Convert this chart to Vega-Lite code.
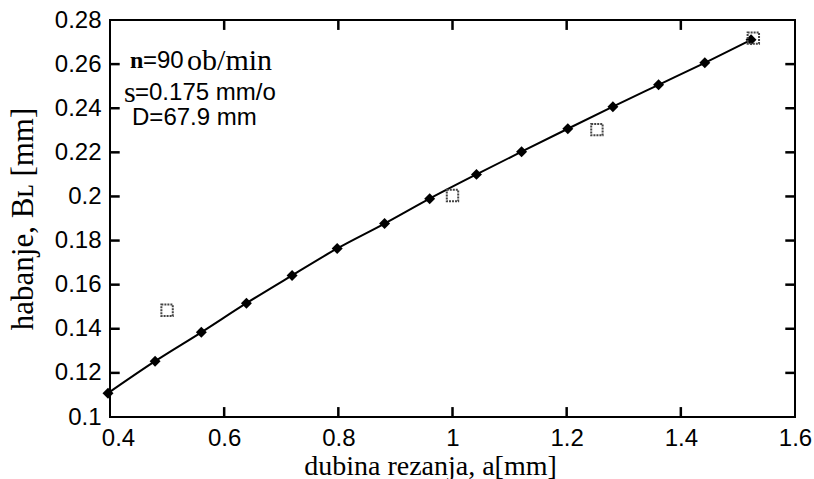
{
  "$schema": "https://vega.github.io/schema/vega-lite/v6.json",
  "width": 685,
  "height": 397,
  "autosize": "none",
  "padding": {"left": 110, "top": 20, "right": 19, "bottom": 62},
  "background": "white",
  "config": {
    "view": {"stroke": "black", "strokeWidth": 2},
    "axis": {"grid": false, "domain": false, "ticks": false, "tickSize": 0,
      "labelFont": "Liberation Sans", "labelFontSize": 24, "labelColor": "black",
      "titleFont": "Liberation Serif", "titleFontSize": 28, "titleFontWeight": "normal", "titleColor": "black"}
  },
  "datasets": {
    "fit": [
      {"a": 0.3965, "b": 0.1108},
      {"a": 0.479, "b": 0.1253},
      {"a": 0.56, "b": 0.1384},
      {"a": 0.639, "b": 0.1516},
      {"a": 0.719, "b": 0.1642},
      {"a": 0.798, "b": 0.1764},
      {"a": 0.881, "b": 0.1877},
      {"a": 0.96, "b": 0.199},
      {"a": 1.042, "b": 0.21},
      {"a": 1.121, "b": 0.2203},
      {"a": 1.202, "b": 0.2307},
      {"a": 1.281, "b": 0.2407},
      {"a": 1.361, "b": 0.2506},
      {"a": 1.442, "b": 0.2606},
      {"a": 1.523, "b": 0.271}
    ],
    "measured": [
      {"a": 0.5, "b": 0.1484},
      {"a": 1.0, "b": 0.2004},
      {"a": 1.253, "b": 0.2303},
      {"a": 1.527, "b": 0.2718}
    ],
    "xticks": [{"v": 0.6}, {"v": 0.8}, {"v": 1.0}, {"v": 1.2}, {"v": 1.4}],
    "yticks": [{"v": 0.12}, {"v": 0.14}, {"v": 0.16}, {"v": 0.18}, {"v": 0.2}, {"v": 0.22}, {"v": 0.24}, {"v": 0.26}],
    "serifText": [
      {"t": "ob/min", "a": 0.535, "b": 0.2615},
      {"t": "s", "a": 0.4246, "b": 0.247}
    ],
    "serifBold": [
      {"t": "n", "a": 0.435, "b": 0.2615}
    ],
    "sansText": [
      {"t": "=90", "a": 0.4578, "b": 0.2615},
      {"t": "=0.175 mm/o", "a": 0.4438, "b": 0.247},
      {"t": "D=67.9 mm", "a": 0.4386, "b": 0.2354}
    ]
  },
  "layer": [
    {
      "data": {"name": "fit"},
      "mark": {"type": "line", "interpolate": "monotone", "color": "black", "strokeWidth": 2},
      "encoding": {
        "x": {"field": "a", "type": "quantitative",
          "scale": {"domain": [0.4, 1.6], "nice": false, "zero": false},
          "axis": {"orient": "bottom", "values": [0.4, 0.6, 0.8, 1.0, 1.2, 1.4, 1.6], "format": "~g", "labelFlush": false,
            "labelOffset": {"condition": {"test": "datum.value == 0.4", "value": 8}, "value": 0},
            "labelPadding": 9, "title": "dubina rezanja, a[mm]", "titlePadding": 2, "titleX": 320}},
        "y": {"field": "b", "type": "quantitative",
          "scale": {"domain": [0.1, 0.28], "nice": false, "zero": false},
          "axis": {"orient": "left", "values": [0.1, 0.12, 0.14, 0.16, 0.18, 0.2, 0.22, 0.24, 0.26, 0.28], "format": "~g", "labelFlush": false, "labelPadding": 9, "title": "habanje, B\u029F [mm]", "titleFontSize": 31, "titlePadding": 15}}
      }
    },
    {
      "data": {"name": "xticks"},
      "mark": {"type": "rule", "color": "black", "strokeWidth": 2.5},
      "encoding": {
        "x": {"field": "v", "type": "quantitative"},
        "y": {"datum": 0.1, "type": "quantitative"},
        "y2": {"datum": 0.1045}
      }
    },
    {
      "data": {"name": "xticks"},
      "mark": {"type": "rule", "color": "black", "strokeWidth": 2.5},
      "encoding": {
        "x": {"field": "v", "type": "quantitative"},
        "y": {"datum": 0.28, "type": "quantitative"},
        "y2": {"datum": 0.2755}
      }
    },
    {
      "data": {"name": "yticks"},
      "mark": {"type": "rule", "color": "black", "strokeWidth": 2.5},
      "encoding": {
        "y": {"field": "v", "type": "quantitative"},
        "x": {"datum": 0.4, "type": "quantitative"},
        "x2": {"datum": 0.417}
      }
    },
    {
      "data": {"name": "yticks"},
      "mark": {"type": "rule", "color": "black", "strokeWidth": 2.5},
      "encoding": {
        "y": {"field": "v", "type": "quantitative"},
        "x": {"datum": 1.6, "type": "quantitative"},
        "x2": {"datum": 1.583}
      }
    },
    {
      "data": {"name": "fit"},
      "mark": {"type": "point", "shape": "diamond", "filled": true, "color": "black", "size": 120, "opacity": 1},
      "encoding": {
        "x": {"field": "a", "type": "quantitative"},
        "y": {"field": "b", "type": "quantitative"}
      }
    },
    {
      "data": {"name": "measured"},
      "mark": {"type": "point", "shape": "square", "filled": false, "stroke": "#444444", "strokeWidth": 2, "size": 130, "strokeDash": [2, 1], "opacity": 1},
      "encoding": {
        "x": {"field": "a", "type": "quantitative"},
        "y": {"field": "b", "type": "quantitative"}
      }
    },
    {
      "data": {"name": "serifText"},
      "mark": {"type": "text", "align": "left", "baseline": "middle", "font": "Liberation Serif", "fontSize": 30, "color": "black"},
      "encoding": {
        "x": {"field": "a", "type": "quantitative"},
        "y": {"field": "b", "type": "quantitative"},
        "text": {"field": "t"}
      }
    },
    {
      "data": {"name": "serifBold"},
      "mark": {"type": "text", "align": "left", "baseline": "middle", "font": "Liberation Serif", "fontSize": 24, "fontWeight": "bold", "color": "black"},
      "encoding": {
        "x": {"field": "a", "type": "quantitative"},
        "y": {"field": "b", "type": "quantitative"},
        "text": {"field": "t"}
      }
    },
    {
      "data": {"name": "sansText"},
      "mark": {"type": "text", "align": "left", "baseline": "middle", "font": "Liberation Sans", "fontSize": 24, "color": "black"},
      "encoding": {
        "x": {"field": "a", "type": "quantitative"},
        "y": {"field": "b", "type": "quantitative"},
        "text": {"field": "t"}
      }
    }
  ]
}
